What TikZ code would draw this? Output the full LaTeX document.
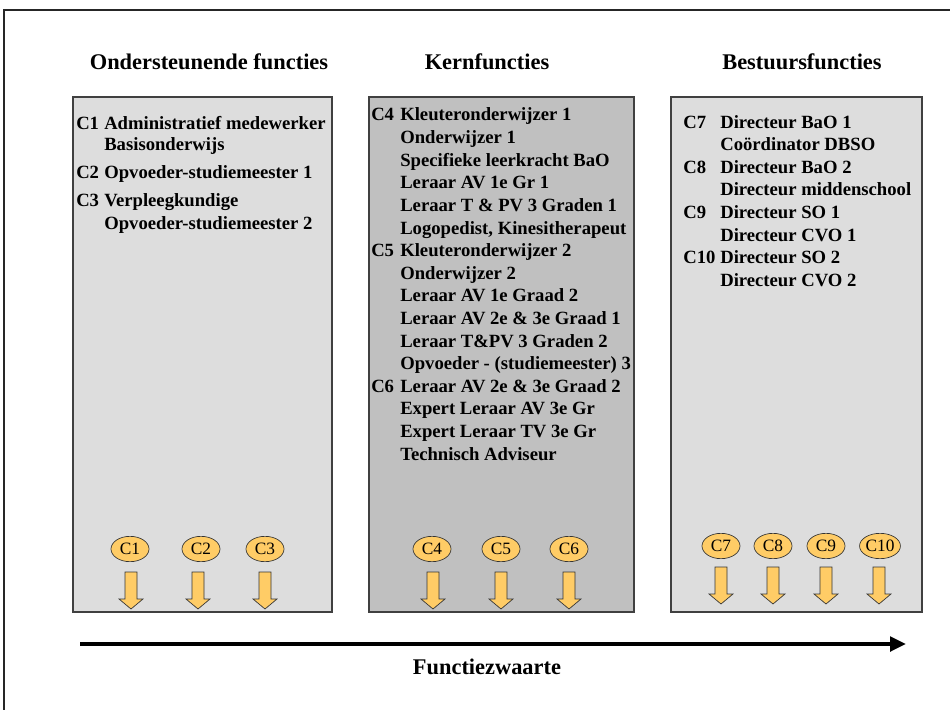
\documentclass[tikz,border=0pt]{standalone}
\usepackage{fontspec}
\setmainfont{Liberation Serif}
\usetikzlibrary{shapes.geometric,arrows.meta}
\definecolor{lgray}{HTML}{DDDDDD}
\definecolor{mgray}{HTML}{C0C0C0}
\definecolor{oval}{HTML}{FFCC66}
\tikzset{
  colbox/.style={draw=black!75, line width=0.8pt},
  head/.style={font=\fontsize{16.8}{19}\selectfont\bfseries, inner sep=0pt},
  entry/.style={anchor=base west, font=\fontsize{14}{16}\selectfont\bfseries, inner sep=0pt},
  cbadge/.style={ellipse, draw=black!80, line width=0.5pt, fill=oval, minimum width=28.5pt, minimum height=19pt, inner sep=0pt, font=\fontsize{13}{15}\selectfont},
  darrow/.pic={\draw[fill=oval, draw=black!80, line width=0.5pt] (-6,0) -- (6,0) -- (6,27) -- (12,27) -- (0,37) -- (-12,27) -- (-6,27) -- cycle;}
}
\begin{document}
\begin{tikzpicture}[x=0.75pt,y=-0.75pt]
\useasboundingbox (0,0) rectangle (950,710);
\draw[line width=1.2pt, black!85] (4,720) -- (4,10) -- (960,10);

% headings
\node[head] (h1) at (209,62) {Ondersteunende functies};
\node[head] (h2) at (487,62) {Kernfuncties};
\node[head] (h3) at (802,62) {Bestuursfuncties};

% boxes
\path[colbox, fill=lgray] (73,97) rectangle (332,612);
\path[colbox, fill=mgray] (369,97) rectangle (634,612);
\path[colbox, fill=lgray] (671,97) rectangle (922,612);

% left box
\node[entry] (l1a) at (76,129) {C1};
\node[entry] (l1b) at (104,129) {Administratief medewerker};
\node[entry] (l1c) at (104,151) {Basisonderwijs};
\node[entry] (l2a) at (76,178) {C2};
\node[entry] (l2b) at (104,178) {Opvoeder-studiemeester 1};
\node[entry] (l3a) at (76,206) {C3};
\node[entry] (l3b) at (104,206) {Verpleegkundige};
\node[entry] (l3c) at (104,229) {Opvoeder-studiemeester 2};

% middle box
\node[entry] (m4) at (371,121) {C4};
\node[entry] (m01) at (400,121) {Kleuteronderwijzer 1};
\node[entry] (m02) at (400,143.6) {Onderwijzer 1};
\node[entry] (m03) at (400,166.2) {Specifieke leerkracht BaO};
\node[entry] (m04) at (400,188.8) {Leraar AV 1e Gr 1};
\node[entry] (m05) at (400,211.4) {Leraar T \& PV 3 Graden 1};
\node[entry] (m06) at (400,234) {Logopedist, Kinesitherapeut};
\node[entry] (m5) at (371,256.6) {C5};
\node[entry] (m07) at (400,256.6) {Kleuteronderwijzer 2};
\node[entry] (m08) at (400,279.2) {Onderwijzer 2};
\node[entry] (m09) at (400,301.8) {Leraar AV 1e Graad 2};
\node[entry] (m10) at (400,324.4) {Leraar AV 2e \& 3e Graad 1};
\node[entry] (m11) at (400,347) {Leraar T\&PV 3 Graden 2};
\node[entry] (m12) at (400,369.6) {Opvoeder - (studiemeester) 3};
\node[entry] (m6) at (371,392.2) {C6};
\node[entry] (m13) at (400,392.2) {Leraar AV 2e \& 3e Graad 2};
\node[entry] (m14) at (400,414.8) {Expert Leraar AV 3e Gr};
\node[entry] (m15) at (400,437.4) {Expert Leraar TV 3e Gr};
\node[entry] (m16) at (400,460) {Technisch Adviseur};

% right box
\node[entry] (r7) at (683,128) {C7};
\node[entry] (r01) at (720,128) {Directeur BaO 1};
\node[entry] (r02) at (720,150.6) {Coördinator DBSO};
\node[entry] (r8) at (683,173.2) {C8};
\node[entry] (r03) at (720,173.2) {Directeur BaO 2};
\node[entry] (r04) at (720,195.8) {Directeur middenschool};
\node[entry] (r9) at (683,218.4) {C9};
\node[entry] (r05) at (720,218.4) {Directeur SO 1};
\node[entry] (r06) at (720,241) {Directeur CVO 1};
\node[entry] (r10) at (683,263.6) {C10};
\node[entry] (r07) at (720,263.6) {Directeur SO 2};
\node[entry] (r08) at (720,286.2) {Directeur CVO 2};

% badges
\node[cbadge] (c1) at (130,549) {C1};
\node[cbadge] (c2) at (201,549) {C2};
\node[cbadge] (c3) at (265,549) {C3};
\node[cbadge] (c4) at (432,549) {C4};
\node[cbadge] (c5) at (501,549) {C5};
\node[cbadge] (c6) at (569,549) {C6};
\node[cbadge] (c7) at (721,546) {C7};
\node[cbadge] (c8) at (773,546) {C8};
\node[cbadge] (c9) at (826,546) {C9};
\node[cbadge] (c10) at (880,546) {C10};

% down arrows
\pic at (131,572) {darrow};
\pic at (198,572) {darrow};
\pic at (265,572) {darrow};
\pic at (433,572) {darrow};
\pic at (501,572) {darrow};
\pic at (569,572) {darrow};
\pic at (721,567) {darrow};
\pic at (773,567) {darrow};
\pic at (826,567) {darrow};
\pic at (879,567) {darrow};

% main axis
\coordinate (a0) at (80,644);
\coordinate (a1) at (906,644);
\draw[line width=2.6pt, -{Triangle[length=12pt,width=11pt]}] (a0) -- (a1);
\node[head] (fz) at (487,667) {Functiezwaarte};
\end{tikzpicture}
\end{document}
